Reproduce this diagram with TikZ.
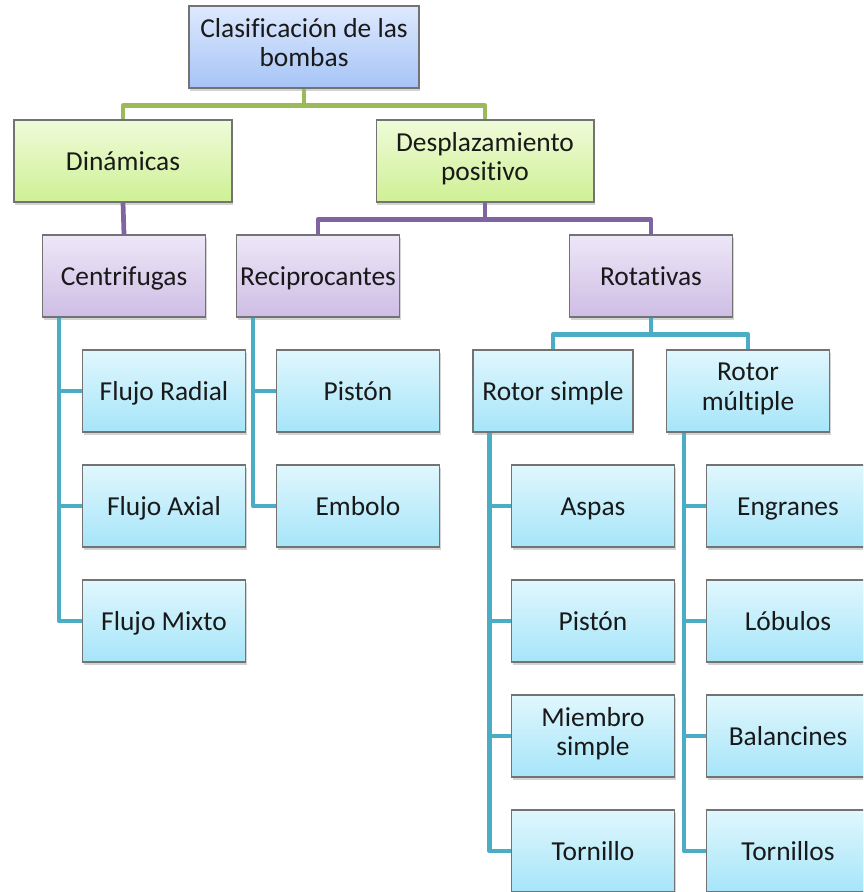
\documentclass[tikz,border=0pt]{standalone}
\usepackage{fontspec}
\setmainfont{Carlito}[Ligatures={NoCommon,NoRare}]
\usetikzlibrary{shadows, positioning}

\definecolor{rootTop}{RGB}{222,233,254}
\definecolor{rootBot}{RGB}{166,196,246}
\definecolor{grnTop}{RGB}{239,251,217}
\definecolor{grnBot}{RGB}{206,240,148}
\definecolor{purTop}{RGB}{237,231,247}
\definecolor{purBot}{RGB}{206,189,229}
\definecolor{cyaTop}{RGB}{224,247,253}
\definecolor{cyaBot}{RGB}{166,229,249}
\definecolor{grnLine}{RGB}{155,187,89}
\definecolor{purLine}{RGB}{128,100,162}
\definecolor{cyaLine}{RGB}{75,172,198}

\begin{document}
\begin{tikzpicture}[
  x=0.02cm, y=-0.02cm,
  box/.style={draw=gray!90!black, line width=0.6pt, align=center,
    minimum width=3.26cm, minimum height=1.64cm, inner sep=1pt,
    font=\fontsize{15.6}{17}\selectfont, text=black!90,
    execute at begin node={\rule{0pt}{16.4pt}},
    execute at end node={\rule[-5.1pt]{0pt}{0pt}},
    drop shadow={shadow xshift=0.6pt, shadow yshift=-1.6pt, opacity=0.35}},
  rootbox/.style={box, top color=rootTop, bottom color=rootBot, minimum width=4.6cm},
  grnbox/.style={box, top color=grnTop, bottom color=grnBot, minimum width=4.36cm},
  purbox/.style={box, top color=purTop, bottom color=purBot},
  cyabox/.style={box, top color=cyaTop, bottom color=cyaBot},
  link/.style={line width=2.7pt, line join=round},
  grnlink/.style={link, draw=grnLine},
  purlink/.style={link, draw=purLine},
  cyalink/.style={link, draw=cyaLine}
]
\clip (0,0) rectangle (863,892);

% top levels
\node[rootbox] (root) at (304,47) {Clasificación de las\\bombas};
\node[grnbox] (din) at (123,161) {Dinámicas};
\node[grnbox] (des) at (485,161) {Desplazamiento\\positivo};
\node[purbox] (cen) at (124,276) {Centrifugas};
\node[purbox] (rec) at (318,276) {Reciprocantes};
\node[purbox] (rot) at (651,276) {Rotativas};
\node[cyabox, minimum width=3.2cm] (rsim) at (553,391) {Rotor simple};
\node[cyabox] (rmul) at (748,391) {Rotor\\múltiple};

% leaves
\node[cyabox] (frad) at (164,391) {Flujo Radial};
\node[cyabox] (fax) at (164,506) {Flujo Axial};
\node[cyabox] (fmix) at (164,621) {Flujo Mixto};
\node[cyabox] (pis) at (358,391) {Pistón};
\node[cyabox] (emb) at (358,506) {Embolo};
\node[cyabox] (asp) at (593,506) {Aspas};
\node[cyabox] (pis2) at (593,621) {Pistón};
\node[cyabox] (mie) at (593,736) {Miembro\\simple};
\node[cyabox] (tor) at (593,851) {Tornillo};
\node[cyabox] (eng) at (788,506) {Engranes};
\node[cyabox] (lob) at (788,621) {Lóbulos};
\node[cyabox] (bal) at (788,736) {Balancines};
\node[cyabox] (tors) at (788,851) {Tornillos};

% connectors
\draw[grnlink] (root.south) -- ++(0,17) -| (din.north);
\draw[grnlink] (root.south) -- ++(0,17) -| (des.north);
\draw[purlink] (din.south) -- (cen.north);
\draw[purlink] (des.south) -- ++(0,17) -| (rec.north);
\draw[purlink] (des.south) -- ++(0,17) -| (rot.north);
\draw[cyalink] (rot.south) -- ++(0,17) -| (rsim.north);
\draw[cyalink] (rot.south) -- ++(0,17) -| (rmul.north);
\foreach \leaf in {frad, fax, fmix}
  \draw[cyalink] ([xshift=0.34cm]cen.south west) |- (\leaf.west);
\foreach \leaf in {pis, emb}
  \draw[cyalink] ([xshift=0.34cm]rec.south west) |- (\leaf.west);
\foreach \leaf in {asp, pis2, mie, tor}
  \draw[cyalink] ([xshift=0.34cm]rsim.south west) |- (\leaf.west);
\foreach \leaf in {eng, lob, bal, tors}
  \draw[cyalink] ([xshift=0.36cm]rmul.south west) |- (\leaf.west);
\end{tikzpicture}
\end{document}
